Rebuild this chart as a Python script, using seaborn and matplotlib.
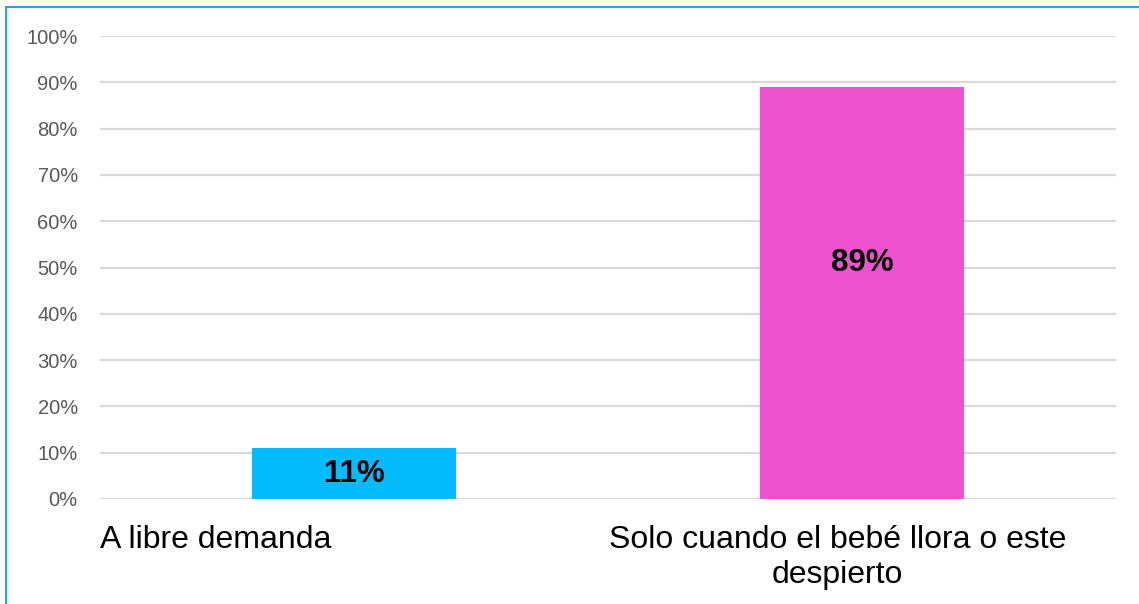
import matplotlib
matplotlib.use("Agg")
import matplotlib.pyplot as plt
import matplotlib.transforms as mtransforms
from matplotlib.lines import Line2D
import seaborn as sns
import pandas as pd

categories = ["A libre demanda", "Solo cuando el bebé llora o este\ndespierto"]
values = [11, 89]
bar_colors = ["#04BCFC", "#EF52CE"]
y_ticks = [0, 10, 20, 30, 40, 50, 60, 70, 80, 90, 100]

sns.set_theme(style="white")
plt.rcParams["font.family"] = ["Liberation Sans", "DejaVu Sans"]

df = pd.DataFrame({"categoria": categories, "valor": values})

fig = plt.figure(figsize=(11.39, 6.04), dpi=100)
ax = fig.add_axes([100 / 1139, 1 - 499 / 604, 1016 / 1139, 463 / 604])

sns.barplot(data=df, x="categoria", y="valor", hue="categoria",
            palette=bar_colors, saturation=1, width=0.4, legend=False, ax=ax,
            edgecolor="none", zorder=3)

ax.set_xlim(-0.5, 1.5)
ax.set_ylim(0, 100)
ax.set_yticks(y_ticks)
ax.set_yticklabels([f"{t}%" for t in y_ticks], fontsize=14.5, color="#595959")
ax.yaxis.grid(True, color="#D9D9D9", linewidth=1.6, zorder=0)
ax.xaxis.grid(False)
ax.set_axisbelow(True)
for side in ["top", "right", "left", "bottom"]:
    ax.spines[side].set_visible(False)
ax.tick_params(axis="y", length=0, pad=16)
ax.tick_params(axis="x", length=0, pad=19)
ax.set_xlabel("")
ax.set_ylabel("")

# category labels: first one starts at the left edge of the plot, second slightly left of its bar
labels = ax.get_xticklabels()
for lab in labels:
    lab.set_fontsize(23)
    lab.set_color("black")
    lab.set_linespacing(1.2)
labels[0].set_horizontalalignment("left")
labels[0].set_transform(labels[0].get_transform() +
                        mtransforms.ScaledTranslation(-253.5 / 100, 0, fig.dpi_scale_trans))
labels[1].set_transform(labels[1].get_transform() +
                        mtransforms.ScaledTranslation(-24.5 / 100, 0, fig.dpi_scale_trans))

# value labels inside the bars
label_heights = [values[0] / 2, 51.0]
for i, (v, h) in enumerate(zip(values, label_heights)):
    ax.text(i, h, f"{v}%", ha="center", va="center", fontsize=22.5,
            fontweight="bold", color="black", zorder=4)

# frame lines along the left and top edges
fig.add_artist(Line2D([6 / 1139, 6 / 1139], [0, 1 - 7 / 604],
                      transform=fig.transFigure, color="#1FA8E2", linewidth=1.5))
fig.add_artist(Line2D([6 / 1139, 1], [1 - 7 / 604, 1 - 7 / 604],
                      transform=fig.transFigure, color="#1FA8E2", linewidth=1.5))

fig.savefig("out.png", dpi=100)
